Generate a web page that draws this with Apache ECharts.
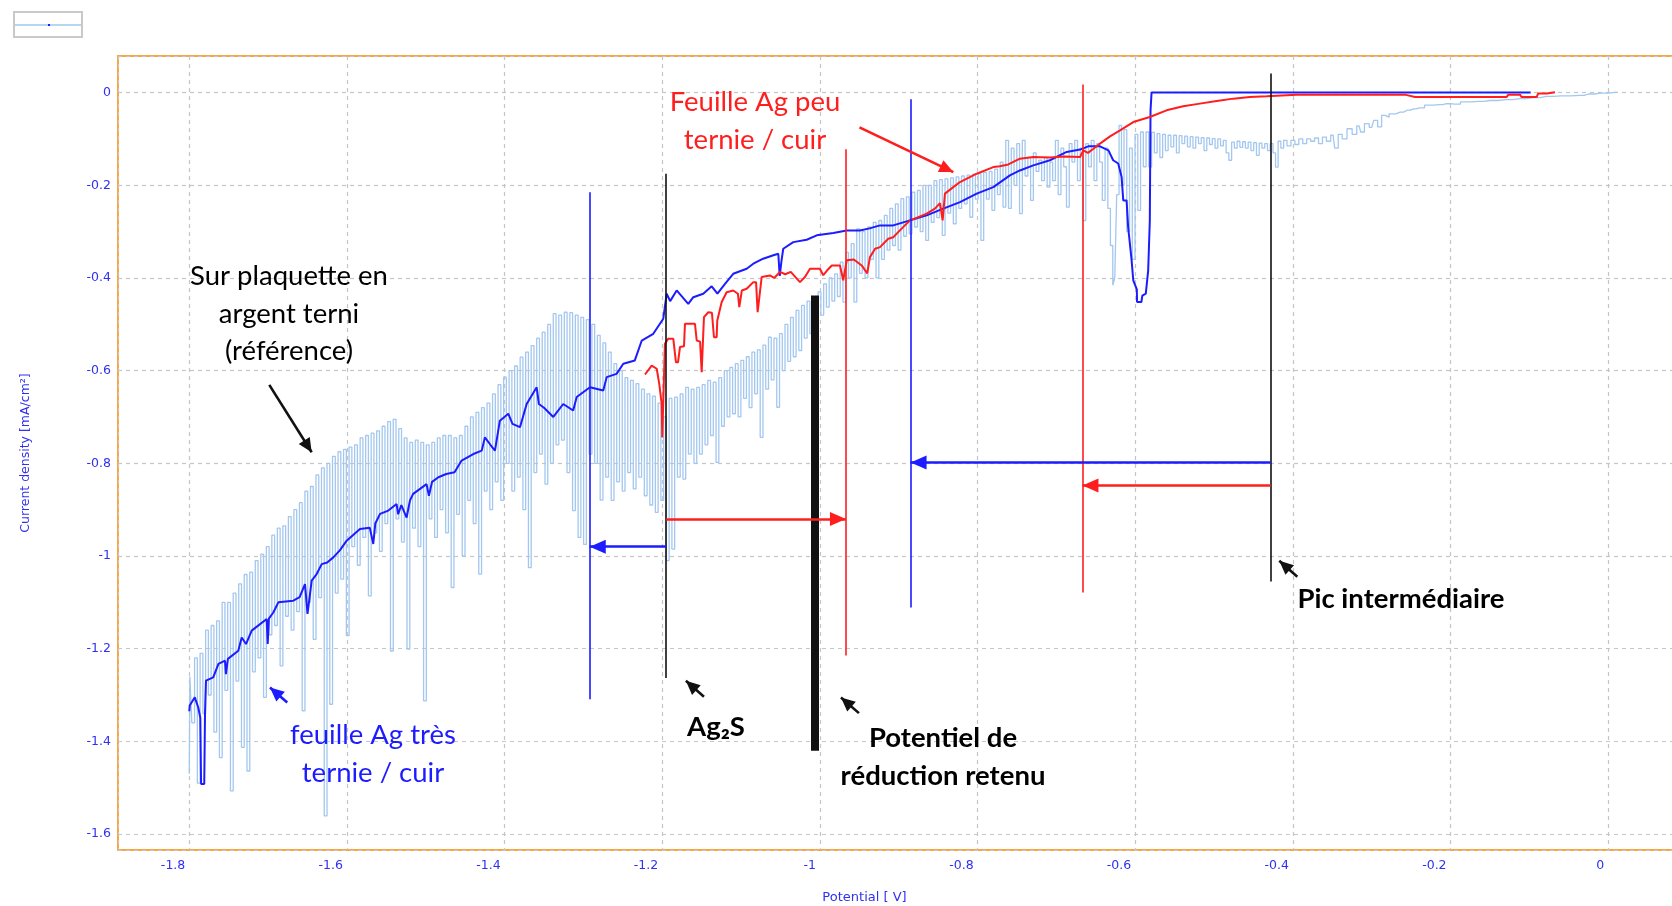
<!DOCTYPE html>
<html><head><meta charset="utf-8">
<script src="https://cdn.jsdelivr.net/npm/echarts@6/dist/echarts.min.js"></script>
<style>html,body{margin:0;padding:0;background:#fff;}#c{width:1672px;height:906px;}</style>
</head><body><div id="c"></div>
<script>
// ---------- DATA (potential V, current density mA/cm2) ----------
const referencePlate = [
[-1.800,-1.47],[-1.7985,-1.26],[-1.795,-1.36],[-1.7915,-1.22],[-1.788,-1.49],[-1.7845,-1.21],[-1.781,-1.34],[-1.7775,-1.16],[-1.774,-1.30],[-1.7705,-1.15],
[-1.767,-1.38],[-1.7635,-1.14],[-1.760,-1.435],[-1.7565,-1.10],[-1.753,-1.29],[-1.7495,-1.10],[-1.746,-1.507],[-1.7425,-1.08],[-1.739,-1.27],[-1.7355,-1.06],
[-1.732,-1.413],[-1.7285,-1.04],[-1.725,-1.464],[-1.7215,-1.035],[-1.718,-1.25],[-1.7145,-1.01],[-1.711,-1.22],[-1.7075,-0.996],[-1.704,-1.305],[-1.7005,-0.98],
[-1.697,-1.17],[-1.6935,-0.955],[-1.690,-1.15],[-1.6865,-0.94],[-1.683,-1.237],[-1.6795,-0.935],[-1.676,-1.13],[-1.6725,-0.915],[-1.669,-1.16],[-1.6655,-0.90],
[-1.662,-1.12],[-1.6585,-0.885],[-1.655,-1.334],[-1.6515,-0.86],[-1.648,-1.10],[-1.6445,-0.85],[-1.641,-1.18],[-1.6375,-0.825],[-1.634,-1.09],[-1.6305,-0.81],
[-1.627,-1.561],[-1.6235,-0.80],[-1.620,-1.32],[-1.6165,-0.785],[-1.613,-1.08],[-1.6095,-0.775],[-1.606,-1.05],[-1.6025,-0.77],[-1.599,-1.172],[-1.5955,-0.765],
[-1.592,-0.98],[-1.5885,-0.76],[-1.585,-1.02],[-1.5815,-0.745],[-1.578,-0.96],[-1.5745,-0.74],[-1.571,-1.086],[-1.5675,-0.735],[-1.564,-0.95],[-1.5605,-0.73],
[-1.557,-0.99],[-1.5535,-0.72],[-1.550,-0.93],[-1.5465,-0.71],[-1.543,-1.205],[-1.5395,-0.705],[-1.536,-0.92],[-1.5325,-0.725],[-1.529,-0.97],[-1.5255,-0.745],
[-1.522,-1.201],[-1.5185,-0.755],[-1.515,-0.94],[-1.5115,-0.75],[-1.508,-0.98],[-1.5045,-0.755],[-1.501,-1.3125],[-1.4975,-0.76],[-1.494,-0.92],[-1.4905,-0.755],
[-1.487,-0.96],[-1.4835,-0.745],[-1.480,-0.90],[-1.4765,-0.74],[-1.473,-0.95],[-1.4695,-0.74],[-1.466,-1.068],[-1.4625,-0.745],[-1.459,-0.91],[-1.4555,-0.74],
[-1.452,-1.00],[-1.4485,-0.72],[-1.445,-0.88],[-1.4415,-0.70],[-1.438,-0.93],[-1.4345,-0.69],[-1.431,-1.039],[-1.4275,-0.68],[-1.424,-0.86],[-1.4205,-0.67],
[-1.417,-0.90],[-1.4135,-0.65],[-1.410,-0.84],[-1.4065,-0.63],[-1.403,-0.88],[-1.3995,-0.614],[-1.396,-0.80],[-1.3925,-0.60],[-1.389,-0.86],[-1.3855,-0.59],
[-1.382,-0.83],[-1.3785,-0.571],[-1.375,-0.90],[-1.3715,-0.56],[-1.368,-1.025],[-1.3645,-0.546],[-1.361,-0.82],[-1.3575,-0.53],[-1.354,-0.78],[-1.3505,-0.517],
[-1.347,-0.845],[-1.3435,-0.50],[-1.340,-0.80],[-1.3365,-0.477],[-1.333,-0.76],[-1.3295,-0.48],[-1.326,-0.75],[-1.3225,-0.474],[-1.319,-0.82],[-1.3155,-0.475],
[-1.312,-0.902],[-1.3085,-0.48],[-1.305,-0.96],[-1.3015,-0.485],[-1.298,-0.975],[-1.2945,-0.49],[-1.291,-0.78],[-1.2875,-0.50],[-1.284,-0.80],[-1.2805,-0.524],
[-1.277,-0.8795],[-1.2735,-0.54],[-1.270,-0.83],[-1.2665,-0.56],[-1.263,-0.88],[-1.2595,-0.585],[-1.256,-0.84],[-1.2525,-0.60],[-1.249,-0.86],[-1.2455,-0.615],
[-1.242,-0.82],[-1.2385,-0.621],[-1.235,-0.855],[-1.2315,-0.628],[-1.228,-0.83],[-1.2245,-0.64],[-1.221,-0.87],[-1.2175,-0.65],[-1.214,-0.89],[-1.2105,-0.655],
[-1.207,-0.906],[-1.2035,-0.67],[-1.200,-0.88],[-1.1965,-0.70],[-1.193,-1.01],[-1.1895,-0.66],[-1.186,-0.985],[-1.1825,-0.657],[-1.179,-0.83],[-1.1755,-0.65],
[-1.172,-0.834],[-1.1685,-0.636],[-1.165,-0.78],[-1.1615,-0.64],[-1.158,-0.80],[-1.1545,-0.636],[-1.151,-0.78],[-1.1475,-0.63],[-1.144,-0.76],[-1.1405,-0.621],
[-1.137,-0.74],[-1.1335,-0.625],[-1.130,-0.798],[-1.1265,-0.615],[-1.123,-0.72],[-1.1195,-0.60],[-1.116,-0.70],[-1.1125,-0.593],[-1.109,-0.693],[-1.1055,-0.585],
[-1.102,-0.70],[-1.0985,-0.578],[-1.095,-0.66],[-1.0915,-0.57],[-1.088,-0.68],[-1.0845,-0.56],[-1.081,-0.65],[-1.0775,-0.555],[-1.074,-0.744],[-1.0705,-0.545],
[-1.067,-0.64],[-1.0635,-0.528],[-1.060,-0.62],[-1.0565,-0.53],[-1.053,-0.679],[-1.0495,-0.52],[-1.046,-0.60],[-1.0425,-0.50],[-1.039,-0.58],[-1.0355,-0.485],
[-1.032,-0.57],[-1.0285,-0.47],[-1.025,-0.5566],[-1.0215,-0.459],[-1.018,-0.53],[-1.0145,-0.45],[-1.011,-0.52],[-1.0075,-0.445],[-1.004,-0.499],[-1.0005,-0.43],
[-0.997,-0.48],[-0.9935,-0.4126],[-0.990,-0.463],[-0.9865,-0.40],[-0.983,-0.45],[-0.9795,-0.391],[-0.976,-0.44],[-0.9725,-0.366],[-0.969,-0.452],[-0.9655,-0.345],
[-0.962,-0.40],[-0.9585,-0.326],[-0.955,-0.452],[-0.9515,-0.294],[-0.948,-0.39],[-0.9445,-0.30],[-0.941,-0.40],[-0.9375,-0.29],[-0.934,-0.36],[-0.9305,-0.28],
[-0.927,-0.40],[-0.9235,-0.276],[-0.920,-0.36],[-0.9165,-0.265],[-0.913,-0.34],[-0.9095,-0.25],[-0.906,-0.33],[-0.9025,-0.24],[-0.899,-0.34],[-0.8955,-0.229],
[-0.892,-0.31],[-0.8885,-0.225],[-0.885,-0.3046],[-0.8815,-0.215],[-0.878,-0.29],[-0.8745,-0.211],[-0.871,-0.30],[-0.8675,-0.20],[-0.864,-0.319],[-0.8605,-0.20],
[-0.857,-0.28],[-0.8535,-0.19],[-0.850,-0.27],[-0.8465,-0.188],[-0.843,-0.308],[-0.8395,-0.186],[-0.836,-0.26],[-0.8325,-0.184],[-0.829,-0.283],[-0.8255,-0.182],
[-0.822,-0.25],[-0.8185,-0.18],[-0.815,-0.24],[-0.8115,-0.178],[-0.808,-0.269],[-0.8045,-0.176],[-0.801,-0.23],[-0.7975,-0.175],[-0.794,-0.319],[-0.7905,-0.172],
[-0.787,-0.23],[-0.7835,-0.17],[-0.780,-0.254],[-0.7765,-0.165],[-0.773,-0.22],[-0.7695,-0.15],[-0.766,-0.247],[-0.7625,-0.103],[-0.759,-0.25],[-0.7555,-0.12],
[-0.752,-0.20],[-0.7485,-0.11],[-0.745,-0.261],[-0.7415,-0.103],[-0.738,-0.18],[-0.7345,-0.14],[-0.731,-0.2326],[-0.7275,-0.13],[-0.724,-0.17],[-0.7205,-0.146],
[-0.717,-0.19],[-0.7135,-0.14],[-0.710,-0.204],[-0.7065,-0.15],[-0.703,-0.19],[-0.6995,-0.103],[-0.696,-0.22],[-0.6925,-0.12],[-0.689,-0.16],[-0.6855,-0.247],
[-0.682,-0.11],[-0.6785,-0.15],[-0.675,-0.103],[-0.6715,-0.19],[-0.668,-0.12],[-0.6645,-0.276],[-0.661,-0.11],[-0.6575,-0.16],[-0.654,-0.103],[-0.6505,-0.19],
[-0.647,-0.11],[-0.6435,-0.15],[-0.640,-0.2326],[-0.6365,-0.12],[-0.633,-0.25],[-0.630,-0.33],[-0.627,-0.416],[-0.625,-0.40],[-0.622,-0.22],[-0.619,-0.0706],
[-0.616,-0.20],[-0.6125,-0.08],[-0.609,-0.30],[-0.6055,-0.12],[-0.602,-0.36],[-0.5985,-0.09],[-0.595,-0.254],[-0.5915,-0.085],[-0.588,-0.16],[-0.5845,-0.085],
[-0.581,-0.1607],[-0.5775,-0.086],[-0.574,-0.13],[-0.5705,-0.0886],[-0.567,-0.14],[-0.5635,-0.09],[-0.560,-0.125],[-0.5565,-0.092],[-0.553,-0.117],[-0.5495,-0.092],
[-0.546,-0.13],[-0.5425,-0.093],[-0.539,-0.11],[-0.5355,-0.094],[-0.532,-0.117],[-0.5285,-0.095],[-0.525,-0.12],[-0.5215,-0.096],[-0.518,-0.11],[-0.5145,-0.097],
[-0.511,-0.125],[-0.5075,-0.098],[-0.504,-0.112],[-0.5005,-0.0994],[-0.497,-0.12],[-0.4935,-0.10],[-0.490,-0.115],[-0.4865,-0.103],[-0.483,-0.13],[-0.4795,-0.146],
[-0.476,-0.1067],[-0.4725,-0.12],[-0.469,-0.105],[-0.4655,-0.118],[-0.462,-0.106],[-0.4585,-0.12],[-0.455,-0.107],[-0.4515,-0.125],[-0.448,-0.108],[-0.4445,-0.1354],
[-0.441,-0.109],[-0.4375,-0.12],[-0.434,-0.11],[-0.4305,-0.125],[-0.427,-0.11],[-0.4235,-0.13],[-0.4205,-0.1607],[-0.417,-0.105],[-0.4135,-0.12],[-0.410,-0.103],
[-0.405,-0.115],[-0.400,-0.103],[-0.395,-0.112],[-0.390,-0.10],[-0.385,-0.11],[-0.380,-0.10],[-0.375,-0.105],[-0.370,-0.098],[-0.365,-0.11],[-0.360,-0.096],
[-0.355,-0.105],[-0.349,-0.092],[-0.345,-0.12],[-0.340,-0.09],[-0.335,-0.10],[-0.3277,-0.078],[-0.322,-0.09],[-0.316,-0.072],[-0.312,-0.085],[-0.3065,-0.067],
[-0.300,-0.075],[-0.295,-0.06],[-0.290,-0.074],[-0.285,-0.049],[-0.281,-0.053],[-0.275,-0.046],[-0.264,-0.042],[-0.255,-0.038],[-0.247,-0.035],[-0.240,-0.033],
[-0.226,-0.027],[-0.215,-0.026],[-0.205,-0.024],[-0.195,-0.025],[-0.180,-0.020],[-0.165,-0.019],[-0.150,-0.017],[-0.130,-0.015],[-0.112,-0.013],[-0.095,-0.011],
[-0.078,-0.008],[-0.060,-0.007],[-0.036,-0.006],[-0.025,-0.003],[-0.010,-0.001],[0.011,0.001]
];

const veryTarnishedLeather = [
[-1.800,-1.335],[-1.7994,-1.3227],[-1.793,-1.305],[-1.7886,-1.327],[-1.786,-1.349],[-1.785,-1.492],[-1.781,-1.492],[-1.780,-1.338],[-1.7788,-1.269],[-1.7696,-1.262],
[-1.763,-1.233],[-1.7547,-1.226],[-1.7535,-1.255],[-1.751,-1.222],[-1.749,-1.219],[-1.7378,-1.2046],[-1.7335,-1.176],[-1.728,-1.19],[-1.7208,-1.161],[-1.7018,-1.136],
[-1.7005,-1.19],[-1.699,-1.135],[-1.6934,-1.122],[-1.687,-1.100],[-1.668,-1.0965],[-1.660,-1.089],[-1.6532,-1.0605],[-1.650,-1.125],[-1.6447,-1.053],[-1.6384,-1.039],
[-1.632,-1.0175],[-1.625,-1.014],[-1.6173,-1.003],[-1.609,-0.988],[-1.6003,-0.967],[-1.5835,-0.9417],[-1.571,-0.939],[-1.5666,-0.974],[-1.564,-0.93],[-1.558,-0.909],
[-1.5475,-0.902],[-1.537,-0.888],[-1.535,-0.91],[-1.531,-0.89],[-1.5243,-0.917],[-1.520,-0.88],[-1.516,-0.866],[-1.499,-0.845],[-1.496,-0.87],[-1.492,-0.84],
[-1.484,-0.830],[-1.474,-0.823],[-1.4635,-0.8195],[-1.4545,-0.794],[-1.4397,-0.78],[-1.429,-0.7726],[-1.425,-0.744],[-1.418,-0.76],[-1.4122,-0.7726],[-1.406,-0.708],
[-1.3953,-0.693],[-1.390,-0.715],[-1.3805,-0.722],[-1.372,-0.672],[-1.3593,-0.636],[-1.3565,-0.672],[-1.350,-0.68],[-1.3382,-0.70],[-1.3256,-0.672],[-1.313,-0.686],
[-1.3085,-0.657],[-1.2917,-0.636],[-1.2748,-0.643],[-1.2705,-0.614],[-1.258,-0.607],[-1.2494,-0.585],[-1.2348,-0.578],[-1.226,-0.535],[-1.2114,-0.5205],[-1.1987,-0.488],
[-1.1944,-0.434],[-1.190,-0.45],[-1.1817,-0.427],[-1.167,-0.456],[-1.1606,-0.4415],[-1.148,-0.434],[-1.1373,-0.418],[-1.130,-0.434],[-1.1204,-0.4126],[-1.110,-0.391],
[-1.0929,-0.380],[-1.0845,-0.3693],[-1.072,-0.3585],[-1.059,-0.351],[-1.0528,-0.3477],[-1.051,-0.3955],[-1.0485,-0.36],[-1.0465,-0.337],[-1.0338,-0.3227],[-1.0168,-0.3175],
[-1.004,-0.308],[-0.983,-0.303],[-0.966,-0.2974],[-0.9492,-0.2974],[-0.937,-0.293],[-0.9238,-0.2866],[-0.907,-0.2866],[-0.8858,-0.2758],[-0.8646,-0.265],[-0.8435,-0.2505],
[-0.8223,-0.2363],[-0.8011,-0.218],[-0.780,-0.204],[-0.759,-0.1786],[-0.7463,-0.168],[-0.7293,-0.157],[-0.7082,-0.146],[-0.687,-0.128],[-0.670,-0.123],[-0.6596,-0.116],
[-0.6447,-0.116],[-0.634,-0.1246],[-0.628,-0.146],[-0.6216,-0.153],[-0.6173,-0.182],[-0.6152,-0.2326],[-0.611,-0.2326],[-0.609,-0.290],[-0.6046,-0.362],[-0.6025,-0.4054],
[-0.598,-0.4246],[-0.5977,-0.452],[-0.5922,-0.452],[-0.591,-0.438],[-0.5866,-0.434],[-0.5836,-0.384],[-0.5815,-0.2758],[-0.5806,-0.038],[-0.5793,0],[-0.0984,0]
];

const slightlyTarnishedLeather = [
[-1.2219,-0.6084],[-1.2134,-0.589],[-1.207,-0.596],[-1.2038,-0.6285],[-1.2007,-0.672],[-1.2000,-0.744],[-1.1994,-0.744],[-1.1966,-0.542],[-1.1924,-0.531],[-1.186,-0.531],
[-1.1826,-0.582],[-1.180,-0.582],[-1.1775,-0.549],[-1.1724,-0.5475],[-1.1712,-0.499],[-1.1585,-0.499],[-1.1563,-0.535],[-1.152,-0.5375],[-1.150,-0.6035],[-1.148,-0.6035],
[-1.1471,-0.4846],[-1.1416,-0.474],[-1.137,-0.475],[-1.1344,-0.528],[-1.131,-0.528],[-1.1302,-0.4918],[-1.1246,-0.452],[-1.1183,-0.4307],[-1.1099,-0.427],[-1.104,-0.434],
[-1.1023,-0.463],[-1.099,-0.427],[-1.0929,-0.4234],[-1.0845,-0.409],[-1.081,-0.409],[-1.079,-0.474],[-1.0765,-0.474],[-1.0739,-0.398],[-1.0634,-0.3946],[-1.058,-0.40],
[-1.0507,-0.387],[-1.044,-0.392],[-1.037,-0.387],[-1.0253,-0.409],[-1.019,-0.398],[-1.0126,-0.380],[-1.000,-0.380],[-0.9958,-0.394],[-0.991,-0.384],[-0.985,-0.373],
[-0.9746,-0.373],[-0.9704,-0.405],[-0.966,-0.362],[-0.957,-0.36],[-0.947,-0.373],[-0.940,-0.39],[-0.9365,-0.355],[-0.930,-0.337],[-0.9238,-0.3335],[-0.9133,-0.3153],
[-0.907,-0.312],[-0.8985,-0.2974],[-0.8858,-0.2758],[-0.8752,-0.2686],[-0.8646,-0.2613],[-0.8541,-0.2505],[-0.8477,-0.2384],[-0.8443,-0.2758],[-0.8414,-0.218],[-0.8308,-0.204],
[-0.8223,-0.193],[-0.8011,-0.175],[-0.780,-0.1607],[-0.7716,-0.159],[-0.761,-0.155],[-0.7463,-0.1426],[-0.7293,-0.139],[-0.7082,-0.14],[-0.690,-0.138],[-0.670,-0.139],
[-0.6659,-0.1246],[-0.660,-0.13],[-0.653,-0.121],[-0.6447,-0.110],[-0.632,-0.0944],[-0.6193,-0.0814],[-0.6025,-0.0635],[-0.5815,-0.0527],[-0.5603,-0.0382],[-0.5392,-0.0296],
[-0.518,-0.0238],[-0.4967,-0.018],[-0.4756,-0.013],[-0.4545,-0.0095],[-0.4333,-0.008],[-0.3953,-0.0044],[-0.258,-0.0044],[-0.2557,-0.008],[-0.2451,-0.0095],[-0.2156,-0.0095],
[-0.214,-0.013],[-0.212,-0.0095],[-0.1859,-0.0095],[-0.184,-0.013],[-0.182,-0.0095],[-0.1542,-0.0095],[-0.152,-0.013],[-0.150,-0.0095],[-0.1288,-0.0095],[-0.127,-0.0044],
[-0.1119,-0.0044],[-0.110,-0.0095],[-0.0907,-0.0095],[-0.089,-0.002],[-0.078,-0.002],[-0.076,0.001],[-0.0676,0.001]
];

// annotation markers (potential positions, vertical extents)
const markerPotential = [-1.292, -1.195, -1.006, -0.967, -0.885, -0.667, -0.428];
const markerTop       = [-0.215, -0.175, -0.438, -0.1225, -0.0145, 0.0173, 0.041];
const markerBottom    = [-1.309, -1.2635, -1.4205, -1.2147, -1.111, -1.079, -1.055];
// horizontal shift arrows
const shiftFrom = [-1.195, -1.195, -0.428, -0.428];
const shiftTo   = [-1.292, -0.967, -0.885, -0.667];
const shiftLevel = [-0.980, -0.920, -0.798, -0.848];
// label pointers [from, to]
const pointerStart = [[-1.6985,-0.6307],[-1.6757,-1.3162],[-1.1471,-1.3039],[-0.9505,-1.3391],[-0.3944,-1.0447],[-0.9498,-0.075]];
const pointerEnd   = [[-1.6447,-0.7762],[-1.6976,-1.2838],[-1.1700,-1.2693],[-0.9733,-1.3054],[-0.4173,-1.0102],[-0.8308,-0.1715]];

// ---------- STYLE ----------
const BLUE = '#1c1cff', RED = '#ff1e1e', LIGHT = '#a3c7ef', BLACK = '#111111';
const markerColors = [BLUE, BLACK, BLACK, RED, BLUE, RED, BLACK];
const markerWidths = [1.6, 1.6, 8, 1.6, 1.6, 1.6, 1.6];
const shiftColors = [BLUE, RED, BLUE, RED];
const pointerColors = [BLACK, BLUE, BLACK, BLACK, BLACK, RED];

const markData = [];
markerPotential.forEach((x, i) => {
  const ls = {color: markerColors[i], width: markerWidths[i], type: 'solid'};
  markData.push([{coord: [x, markerTop[i]], symbol: 'none', lineStyle: ls},
                 {coord: [x, markerBottom[i]], symbol: 'none', lineStyle: ls}]);
});
shiftFrom.forEach((x, i) => {
  const ls = {color: shiftColors[i], width: 2.6, type: 'solid'};
  markData.push([{coord: [x, shiftLevel[i]], symbol: 'none', lineStyle: ls},
                 {coord: [shiftTo[i], shiftLevel[i]], symbol: 'triangle', symbolSize: [14, 16], symbolOffset: [0, '50%'], lineStyle: ls}]);
});
pointerStart.forEach((p, i) => {
  const ls = {color: pointerColors[i], width: 2.6, type: 'solid'};
  markData.push([{coord: p, symbol: 'none', lineStyle: ls},
                 {coord: pointerEnd[i], symbol: 'triangle', symbolSize: [13, 14], symbolOffset: [0, '50%'], lineStyle: ls}]);
});

const lbl = {fontFamily: 'DejaVu Sans', fontSize: 12.5, color: '#3030f2'};
const txt = (x, y, text, color, bold, lh) => ({
  type: 'text', x: x, y: y, silent: true, z: 100,
  style: {text: text, fill: color, fontFamily: 'Lato', fontSize: 27.5, fontWeight: bold ? 'bold' : 'normal',
          align: 'center', verticalAlign: 'middle', textAlign: 'center', textVerticalAlign: 'middle', lineHeight: lh || 38}
});

const chart = echarts.init(document.getElementById('c'), null, {renderer: 'canvas'});
chart.setOption({
  animation: false,
  backgroundColor: '#ffffff',
  grid: {show: true, left: 118, top: 56, right: -3, bottom: 56, borderColor: '#f9a540', borderWidth: 2,
         backgroundColor: 'transparent', containLabel: false, outerBoundsMode: 'none'},
  xAxis: {
    type: 'value', min: -1.8904, max: 0.0847, splitNumber: 10,
    name: 'Potential [ V]', nameLocation: 'middle', nameGap: 41,
    nameTextStyle: {fontFamily: 'DejaVu Sans', fontSize: 13, color: '#3030f2', padding: [0, 64, 0, 0]},
    axisLine: {show: false}, axisTick: {show: false},
    axisLabel: Object.assign({showMinLabel: false, showMaxLabel: false, margin: 9, align: 'right', padding: [0, 4, 0, 0]}, lbl),
    splitLine: {show: true, lineStyle: {color: '#c6c6c6', width: 1.2, type: [4, 4]}}
  },
  yAxis: {
    type: 'value', min: -1.6345, max: 0.079, splitNumber: 8,
    name: 'Current density [mA/cm²]', nameLocation: 'middle', nameGap: 86, nameRotate: 90,
    nameTextStyle: {fontFamily: 'DejaVu Sans', fontSize: 12.5, color: '#3030f2'},
    axisLine: {show: false}, axisTick: {show: false},
    axisLabel: Object.assign({showMinLabel: false, showMaxLabel: false, margin: 7}, lbl),
    splitLine: {show: true, lineStyle: {color: '#c6c6c6', width: 1.2, type: [4, 4]}}
  },
  series: [
    {type: 'line', name: 'ref', data: referencePlate, showSymbol: false, symbol: 'none', step: 'middle',
     lineStyle: {color: LIGHT, width: 1.3}, z: 2, silent: true, clip: true},
    {type: 'line', name: 'tres', data: veryTarnishedLeather, showSymbol: false, symbol: 'none',
     lineStyle: {color: BLUE, width: 2}, z: 3, silent: true},
    {type: 'line', name: 'peu', data: slightlyTarnishedLeather, showSymbol: false, symbol: 'none',
     lineStyle: {color: RED, width: 2}, z: 4, silent: true},
    {type: 'line', name: 'annot', data: [], silent: true,
     markLine: {silent: true, animation: false, symbol: ['none', 'triangle'], label: {show: false},
                emphasis: {disabled: true}, data: markData}}
  ],
  graphic: [
    {type: 'rect', shape: {x: 14, y: 12, width: 68, height: 25}, style: {fill: '#fff', stroke: '#c9c9c9', lineWidth: 2}},
    {type: 'line', shape: {x1: 15, y1: 25, x2: 81, y2: 25}, style: {stroke: LIGHT, lineWidth: 1.5}},
    {type: 'rect', shape: {x: 48, y: 24, width: 2, height: 2}, style: {fill: BLUE}},
    txt(755, 121, 'Feuille Ag peu\nternie / cuir', RED, false, 38),
    txt(289, 314, 'Sur plaquette en\nargent terni\n(référence)', '#000', false, 37.5),
    txt(373, 754, 'feuille Ag très\nternie / cuir', BLUE, false, 38.5),
    txt(716, 727, 'Ag₂S', '#000', true),
    txt(943, 757, 'Potentiel de\nréduction retenu', '#000', true, 38.7),
    txt(1401, 599, 'Pic intermédiaire', '#000', true)
  ]
});
</script></body></html>
